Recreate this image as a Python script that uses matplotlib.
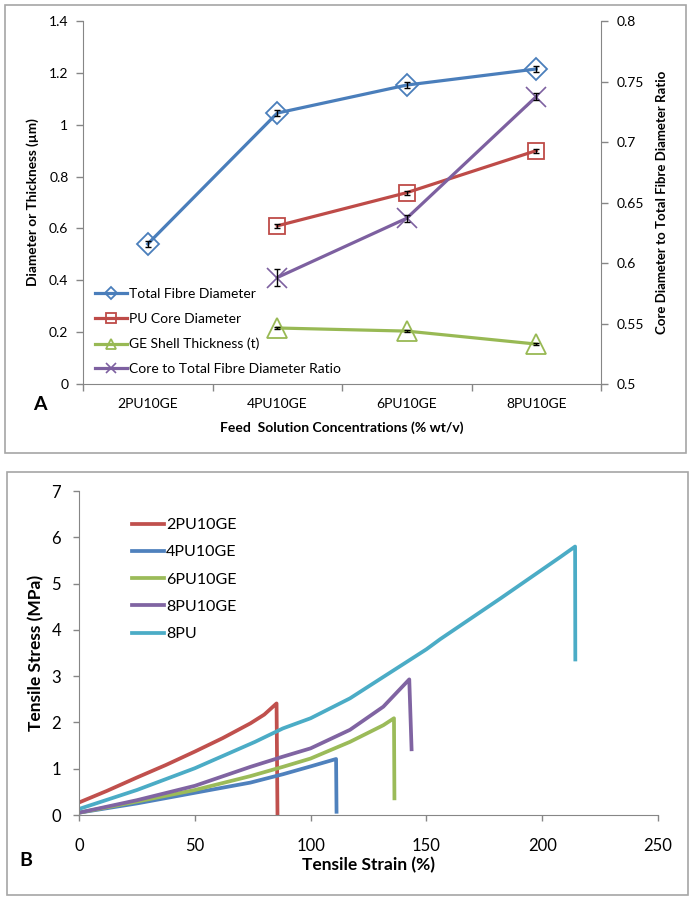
import matplotlib
matplotlib.use('Agg')
import numpy as np
import matplotlib.pyplot as plt
from matplotlib.patches import Rectangle

plt.rcParams['font.family'] = ['Lato', 'DejaVu Sans']

# ---- Panel A: diámetros por concentración ----
muestras = ['2PU10GE', '4PU10GE', '6PU10GE', '8PU10GE']
diam_total = [0.54, 1.045, 1.153, 1.215]
err_total = [0.01, 0.01, 0.01, 0.01]
diam_core = [np.nan, 0.61, 0.738, 0.90]
err_core = [0, 0.008, 0.008, 0.008]
espesor_ge = [np.nan, 0.216, 0.204, 0.154]
err_ge = [0, 0.003, 0.003, 0.003]
ratio = [np.nan, 0.588, 0.637, 0.7375]
err_ratio = [0, 0.007, 0.003, 0.003]
yticks_a = [0, 0.2, 0.4, 0.6, 0.8, 1.0, 1.2, 1.4]
ylabels_a = ['0', '0.2', '0.4', '0.6', '0.8', '1', '1.2', '1.4']
yticks_a2 = [0.5, 0.55, 0.6, 0.65, 0.7, 0.75, 0.8]
ylabels_a2 = ['0.5', '0.55', '0.6', '0.65', '0.7', '0.75', '0.8']

# ---- Panel B: curvas esfuerzo-deformación ----
s_2pu = [0, 12, 25, 37.5, 50, 62, 74, 80, 85.3, 85.7]
t_2pu = [0.27, 0.52, 0.81, 1.08, 1.37, 1.66, 1.98, 2.17, 2.41, 0.03]
s_4pu = [0, 25, 50, 74, 88, 100, 111, 111.2]
t_4pu = [0.05, 0.25, 0.48, 0.70, 0.88, 1.05, 1.21, 0.07]
s_6pu = [0, 25, 50, 74, 88, 100, 117, 131.4, 136, 136.2]
t_6pu = [0.05, 0.29, 0.54, 0.84, 1.04, 1.22, 1.58, 1.94, 2.09, 0.36]
s_8pu = [0, 25, 50, 74, 88, 100, 117, 131.4, 142.6, 143.6]
t_8pu = [0.05, 0.32, 0.63, 1.04, 1.26, 1.44, 1.84, 2.34, 2.93, 1.42]
s_pu = [0, 25, 50, 76, 88, 100, 117, 131, 150, 156, 182, 208, 214.2, 214.3]
t_pu = [0.13, 0.54, 1.01, 1.58, 1.87, 2.09, 2.52, 2.97, 3.58, 3.80, 4.68, 5.58, 5.8, 3.36]
xticks_b = [0, 50, 100, 150, 200, 250]
yticks_b = [0, 1, 2, 3, 4, 5, 6, 7]

azul = '#4A7EBB'
rojo = '#BE4B48'
verde = '#98B954'
morado = '#7D60A0'
cian = '#4BACC6'
gris = '#868686'

W, H = 694, 900
fig = plt.figure(figsize=(6.94, 9), dpi=100)

# marcos de los paneles
fig.patches.append(Rectangle((5 / W, 1 - 453 / H), 681 / W, 448 / H, transform=fig.transFigure,
                             fill=False, edgecolor='#a6a6a6', lw=1.2))
fig.patches.append(Rectangle((7 / W, 1 - 895 / H), 681 / W, 423 / H, transform=fig.transFigure,
                             fill=False, edgecolor='#a6a6a6', lw=1.2))

# ================= Panel A =================
ax = fig.add_axes([83 / W, 1 - 384 / H, 518 / W, 363 / H])
ax2 = ax.twinx()
x = np.arange(len(muestras))

l1, = ax.plot(x, diam_total, '-', color=azul, lw=2.3, marker='D', ms=11, mfc='none', mec=azul, mew=1.3,
              label='Total Fibre Diameter')
l2, = ax.plot(x, diam_core, '-', color=rojo, lw=2.3, marker='s', ms=12, mfc='none', mec=rojo, mew=1.3,
              label='PU Core Diameter')
l3, = ax.plot(x, espesor_ge, '-', color=verde, lw=2.3, marker='^', ms=14, mfc='none', mec=verde, mew=1.3,
              label='GE Shell Thickness (t)')
ax.errorbar(x, diam_total, yerr=err_total, fmt='none', ecolor='black', elinewidth=1, capsize=2.5, zorder=5)
ax.errorbar(x, diam_core, yerr=err_core, fmt='none', ecolor='black', elinewidth=1, capsize=2.5, zorder=5)
ax.errorbar(x, espesor_ge, yerr=err_ge, fmt='none', ecolor='black', elinewidth=1, capsize=2, zorder=5)

l4, = ax2.plot(x, ratio, '-', color=morado, lw=2.3, marker='x', ms=14, mec=morado, mew=1.2,
               label='Core to Total Fibre Diameter Ratio')
ax2.errorbar(x, ratio, yerr=err_ratio, fmt='none', ecolor='black', elinewidth=1, capsize=2.5, zorder=5)

ax.set_xlim(-0.5, 3.5)
ax.set_ylim(0, 1.4)
ax2.set_ylim(0.5, 0.8)
ax.set_yticks(yticks_a)
ax.set_yticklabels(ylabels_a)
ax2.set_yticks(yticks_a2)
ax2.set_yticklabels(ylabels_a2)
ax.set_xticks(np.arange(-0.5, 4, 1))
ax.set_xticklabels([])
ax.set_xticks(x, minor=True)
ax.set_xticklabels(muestras, minor=True)
ax.tick_params(axis='x', which='major', length=5, width=1, color=gris)
ax.tick_params(axis='x', which='minor', length=0, pad=10, labelsize=10)
ax.tick_params(axis='y', length=5, width=1, color=gris, pad=5.5, labelsize=10)
ax2.tick_params(axis='y', length=5, width=1, color=gris, pad=6.5, labelsize=10)

for a in (ax, ax2):
    a.spines['top'].set_visible(False)
    for s in ('left', 'right', 'bottom'):
        a.spines[s].set_color(gris)
ax.spines['right'].set_visible(False)
ax2.spines['left'].set_visible(False)
ax2.spines['bottom'].set_visible(False)

ax.set_ylabel('Diameter or Thickness (µm)', fontsize=9.8, fontweight='bold', labelpad=7)
ax2.set_ylabel('Core Diameter to Total Fibre Diameter Ratio', fontsize=9.5, fontweight='bold', labelpad=8)
ax.set_xlabel('Feed  Solution Concentrations (% wt/v)', fontsize=10, fontweight='bold', labelpad=8)

ax2.legend(handles=[l1, l2, l3, l4], loc='upper left', bbox_to_anchor=(95 / W, 1 - 288 / H),
           bbox_transform=fig.transFigure, frameon=False, fontsize=10, markerscale=0.55,
           handlelength=2.3, handletextpad=0.12, labelspacing=0.93, borderpad=0, borderaxespad=0)

fig.text(40 / W, 1 - 405 / H, 'A', fontsize=14, fontweight='bold', ha='center', va='center')

# ================= Panel B =================
bx = fig.add_axes([79 / W, 1 - 815 / H, 579 / W, 324 / H])
bx.plot(s_2pu, t_2pu, color='#C0504D', lw=2.7, label='2PU10GE')
bx.plot(s_4pu, t_4pu, color='#4F81BD', lw=2.7, label='4PU10GE')
bx.plot(s_6pu, t_6pu, color='#9BBB59', lw=2.7, label='6PU10GE')
bx.plot(s_8pu, t_8pu, color='#8064A2', lw=2.7, label='8PU10GE')
bx.plot(s_pu, t_pu, color=cian, lw=2.7, label='8PU')

bx.set_xlim(0, 250)
bx.set_ylim(0, 7)
bx.set_xticks(xticks_b)
bx.set_yticks(yticks_b)
bx.tick_params(axis='both', length=4.5, width=1, color=gris, labelsize=12)
bx.tick_params(axis='y', pad=8.5)
bx.tick_params(axis='x', pad=12)
bx.spines['top'].set_visible(False)
bx.spines['right'].set_visible(False)
bx.spines['left'].set_color(gris)
bx.spines['bottom'].set_color(gris)
bx.set_xlabel('Tensile Strain (%)', fontsize=12.5, fontweight='bold', labelpad=2.5)
bx.set_ylabel('Tensile Stress (MPa)', fontsize=12.5, fontweight='bold', labelpad=5)

bx.legend(loc='upper left', bbox_to_anchor=(132 / W, 1 - 518 / H), bbox_transform=fig.transFigure,
          frameon=False, fontsize=11.5, handlelength=2.0, handletextpad=0.12, labelspacing=0.82,
          borderpad=0, borderaxespad=0)

fig.text(26 / W, 1 - 860 / H, 'B', fontsize=14, fontweight='bold', ha='center', va='center')

fig.savefig('out.png', dpi=100)
